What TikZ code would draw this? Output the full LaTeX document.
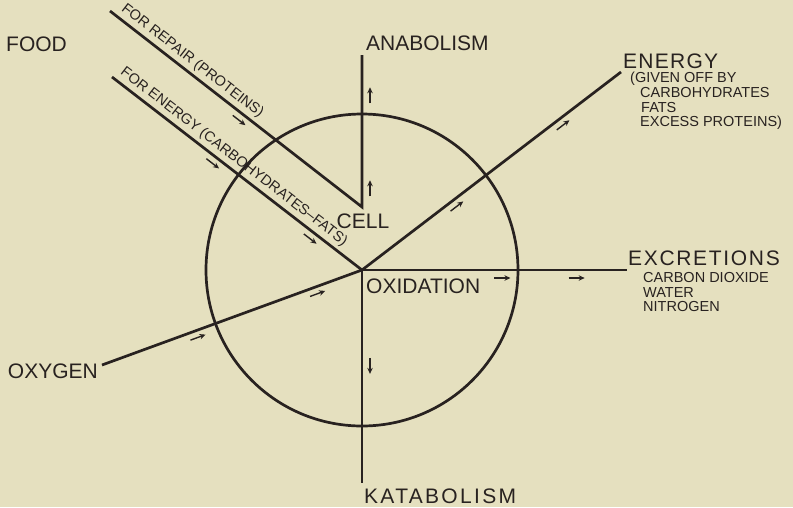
\documentclass[tikz,border=0pt]{standalone}
\usepackage{fontspec}
\setmainfont{Liberation Sans}
\usetikzlibrary{arrows.meta,decorations.markings}

\definecolor{paper}{RGB}{229,224,191}
\definecolor{ink}{RGB}{40,34,32}

\tikzset{
    line/.style={draw=ink, line width=2.7pt, line join=miter},
    big/.style={text=ink, inner sep=0pt, font=\fontsize{21}{24}\selectfont},
    small/.style={text=ink, inner sep=0pt, align=left, font=\fontsize{14.5}{14.7}\selectfont},
    along/.style={small, sloped, above=3pt},
    smallarrow/.style={ink, line width=1.4pt, -{Stealth[length=6pt, width=5.5pt]}},
    flow at/.style 2 args={postaction={decorate, decoration={markings,
        mark=at position #1 with {\draw[smallarrow] (-8pt,#2) -- (8pt,#2);}}}}
}

\begin{document}
\begin{tikzpicture}[x=1pt, y=-1pt]

\def\r{156}

% Paper
\fill[paper] (0,0) rectangle (793,507);
\useasboundingbox (0,0) rectangle (793,507);

% Line ends
\coordinate (hub) at (362,270);
\coordinate (apex) at (362,207);
\coordinate (anatop) at (362,55);
\coordinate (katbot) at (362,483);
\coordinate (repair) at (110,11);
\coordinate (fuel) at (112,77);
\coordinate (energy) at (621,72);
\coordinate (oxy) at (102,365);
\coordinate (excr) at (627,270);

% The cell
\draw[line] (hub) circle[radius=\r pt];

% Food for repair, up to anabolism
\draw[line, flow at={169pt}{-7pt}, flow at={338pt}{-8pt}, flow at={431pt}{-8pt}]
    (repair) -- node[along, pos=0.30] {FOR REPAIR (PROTEINS)} (apex) -- (anatop);

% Food for energy
\draw[line, flow at={0.42}{-7pt}, flow at={0.81}{-7pt}]
    (fuel) -- node[along, pos=0.46] {FOR ENERGY (CARBOHYDRATES--FATS)} (hub);

% Oxygen in, energy and excretions out, katabolism down
\draw[line, flow at={0.36}{-7pt}, flow at={0.82}{-7pt}] (oxy) -- (hub);
\draw[line, flow at={0.35}{-7pt}, flow at={0.76}{-7pt}] (hub) -- (energy);
\draw[line, flow at={0.53}{-8pt}, flow at={0.81}{-8pt}] (hub) -- (excr);
\draw[line, flow at={0.45}{8pt}] (hub) -- (katbot);

% Labels
\node[big, anchor=base west] (food) at (6,51) {FOOD};
\node[big, anchor=base west] (anab) at (366,50) {ANABOLISM};
\node[big, anchor=base] (cell) at (363,228) {CELL};
\node[big, anchor=base west] (oxid) at (366,293) {OXIDATION};
\node[big, anchor=base east] (oxygen) at (98,378) {OXYGEN};
\node[big, anchor=base west] (katab) at (364,503)
    {\addfontfeatures{LetterSpace=11}KATABOLISM};
\node[big, anchor=base west] (enlabel) at (623,68)
    {\addfontfeatures{LetterSpace=6}ENERGY};
\node[small, anchor=north west] (given) at (630,72)
    {(GIVEN OFF BY\\\hspace*{10pt}CARBOHYDRATES\\\hspace*{11pt}FATS\\\hspace*{10pt}EXCESS PROTEINS)};
\node[big, anchor=base west] (excrlabel) at (628,265)
    {\addfontfeatures{LetterSpace=8}EXCRETIONS};
\node[small, anchor=north west] (products) at (643,272)
    {CARBON DIOXIDE\\WATER\\NITROGEN};

\end{tikzpicture}
\end{document}
